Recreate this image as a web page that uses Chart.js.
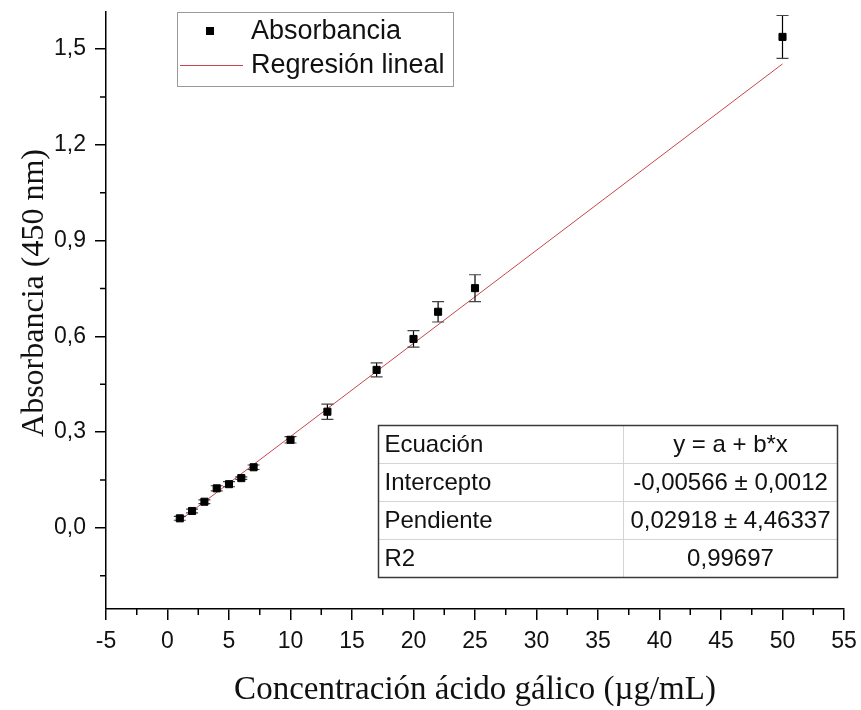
<!DOCTYPE html>
<html>
<head>
<meta charset="utf-8">
<script src="https://cdn.jsdelivr.net/npm/chart.js@4.4.1/dist/chart.umd.min.js"></script>
<style>
  html, body { margin: 0; padding: 0; background: #ffffff; }
  #wrap { width: 861px; height: 710px; }
</style>
</head>
<body>
<div id="wrap"><canvas id="curva" width="861" height="710"></canvas></div>
<script>
// Curva de calibración: concentración de ácido gálico vs absorbancia a 450 nm
const concentracion = [1, 2, 3, 4, 5, 6, 7, 10, 13, 17, 20, 22, 25, 50];
const absorbancia   = [0.030, 0.053, 0.082, 0.124, 0.137, 0.156, 0.190, 0.276, 0.364, 0.495, 0.592, 0.677, 0.751, 1.538];
const desviacion    = [0.006, 0.006, 0.006, 0.008, 0.008, 0.004, 0.007, 0.010, 0.024, 0.022, 0.026, 0.032, 0.042, 0.067];

// Parámetros del ajuste lineal (y = a + b*x)
const intercepto = -0.00566;
const pendiente  = 0.02918;

const xTicks = [-5, 0, 5, 10, 15, 20, 25, 30, 35, 40, 45, 50, 55];
const xTickLabels = ['-5', '0', '5', '10', '15', '20', '25', '30', '35', '40', '45', '50', '55'];
const yTicks = [0, 0.3, 0.6, 0.9, 1.2, 1.5];
const yTickLabels = ['0,0', '0,3', '0,6', '0,9', '1,2', '1,5'];

const tablaEtiquetas = ['Ecuación', 'Intercepto', 'Pendiente', 'R2'];
const tablaValores   = ['y = a + b*x', '-0,00566 ± 0,0012', '0,02918 ± 4,46337', '0,99697'];

const SANS = "'Liberation Sans', Arial, sans-serif";
const SERIF = "'Liberation Serif', 'Times New Roman', serif";
const COLOR_AJUSTE = '#c8454d';

const puntos = concentracion.map((x, i) => ({ x: x, y: absorbancia[i] }));
const xMinDatos = Math.min(...concentracion);
const xMaxDatos = Math.max(...concentracion);
const recta = [
  { x: xMinDatos, y: intercepto + pendiente * xMinDatos },
  { x: xMaxDatos, y: intercepto + pendiente * xMaxDatos }
];

// Barras de error bajo los marcadores
const barrasError = {
  id: 'barrasError',
  beforeDatasetDraw(chart, args) {
    if (args.index !== 0) return;
    const { ctx, scales: { x, y } } = chart;
    ctx.save();
    concentracion.forEach((c, i) => {
      const px = x.getPixelForValue(c);
      const yTop = y.getPixelForValue(absorbancia[i] + desviacion[i]);
      const yBot = y.getPixelForValue(absorbancia[i] - desviacion[i]);
      ctx.strokeStyle = '#000';
      ctx.lineWidth = 1.2;
      ctx.beginPath();
      ctx.moveTo(px, yTop);
      ctx.lineTo(px, yBot);
      ctx.stroke();
      ctx.strokeStyle = '#444';
      ctx.beginPath();
      ctx.moveTo(px - 6, yTop); ctx.lineTo(px + 6, yTop);
      ctx.moveTo(px - 6, yBot); ctx.lineTo(px + 6, yBot);
      ctx.stroke();
    });
    ctx.restore();
  }
};

// Marcas menores, títulos de ejes, leyenda y tabla del ajuste
const decoracion = {
  id: 'decoracion',
  afterDraw(chart) {
    const { ctx, chartArea, scales: { x, y } } = chart;
    ctx.save();

    // marcas menores
    ctx.strokeStyle = '#000';
    ctx.lineWidth = 1.5;
    ctx.beginPath();
    for (let v = -2.5; v < 55; v += 5) {
      const px = x.getPixelForValue(v);
      ctx.moveTo(px, chartArea.bottom);
      ctx.lineTo(px, chartArea.bottom + 6);
    }
    for (let v = -0.15; v < y.max; v += 0.3) {
      const py = y.getPixelForValue(v);
      ctx.moveTo(chartArea.left, py);
      ctx.lineTo(chartArea.left - 6, py);
    }
    ctx.stroke();

    // títulos de ejes
    ctx.fillStyle = '#111';
    ctx.textAlign = 'center';
    ctx.textBaseline = 'middle';
    ctx.font = '33px ' + SERIF;
    ctx.fillText('Concentración ácido gálico (µg/mL)', (chartArea.left + chartArea.right) / 2, 690);
    ctx.font = '32px ' + SERIF;
    ctx.save();
    ctx.translate(35, 293);
    ctx.rotate(-Math.PI / 2);
    ctx.fillText('Absorbancia (450 nm)', 0, 0);
    ctx.restore();

    // leyenda
    const ds0 = chart.data.datasets[0];
    const ds1 = chart.data.datasets[1];
    ctx.strokeStyle = '#9a9a9a';
    ctx.lineWidth = 1;
    ctx.strokeRect(177.5, 12.5, 276, 74);
    ctx.fillStyle = ds0.backgroundColor;
    ctx.fillRect(206, 27, 8, 8);
    ctx.strokeStyle = ds1.borderColor;
    ctx.lineWidth = 1;
    ctx.beginPath();
    ctx.moveTo(180, 65.5);
    ctx.lineTo(243, 65.5);
    ctx.stroke();
    ctx.fillStyle = '#111';
    ctx.font = '27px ' + SANS;
    ctx.textAlign = 'left';
    ctx.textBaseline = 'middle';
    ctx.fillText(ds0.label, 251, 32);
    ctx.fillText(ds1.label, 251, 66);

    // tabla del ajuste
    const tx = 378.5, ty = 425.5, tw = 459, fila = 38, colDiv = 623.5;
    const th = fila * tablaEtiquetas.length;
    ctx.fillStyle = '#ffffff';
    ctx.fillRect(tx, ty, tw, th);
    ctx.strokeStyle = '#d4d4d4';
    ctx.lineWidth = 1;
    ctx.beginPath();
    for (let r = 1; r < tablaEtiquetas.length; r++) {
      ctx.moveTo(tx, ty + r * fila);
      ctx.lineTo(tx + tw, ty + r * fila);
    }
    ctx.moveTo(colDiv, ty);
    ctx.lineTo(colDiv, ty + th);
    ctx.stroke();
    ctx.strokeStyle = '#3a3a3a';
    ctx.lineWidth = 1.5;
    ctx.strokeRect(tx, ty, tw, th);

    ctx.fillStyle = '#111';
    ctx.font = '24px ' + SANS;
    ctx.textBaseline = 'middle';
    tablaEtiquetas.forEach((t, r) => {
      ctx.textAlign = 'left';
      ctx.fillText(t, tx + 6, ty + r * fila + fila / 2 + 1);
      ctx.textAlign = 'center';
      ctx.fillText(tablaValores[r], (colDiv + tx + tw) / 2, ty + r * fila + fila / 2 + 1);
    });

    ctx.restore();
  }
};

new Chart(document.getElementById('curva'), {
  type: 'scatter',
  data: {
    datasets: [
      {
        label: 'Absorbancia',
        data: puntos,
        pointStyle: 'rect',
        pointRadius: 5,
        pointBorderWidth: 1,
        backgroundColor: '#000000',
        borderColor: '#000000',
        order: 0
      },
      {
        type: 'line',
        label: 'Regresión lineal',
        data: recta,
        borderColor: COLOR_AJUSTE,
        borderWidth: 1,
        pointRadius: 0,
        fill: false,
        tension: 0,
        order: 1
      }
    ]
  },
  options: {
    responsive: false,
    animation: false,
    events: [],
    layout: { padding: { top: 12, right: 17, left: 0, bottom: 0 } },
    plugins: { legend: { display: false }, tooltip: { enabled: false } },
    scales: {
      x: {
        type: 'linear',
        min: -5,
        max: 55,
        afterBuildTicks: s => { s.ticks = xTicks.map(v => ({ value: v })); },
        afterFit: s => { s.height = 101; s.paddingLeft = 0; s.paddingRight = 0; },
        grid: { drawOnChartArea: false, drawTicks: true, tickLength: 11, color: '#000', lineWidth: 1.5 },
        border: { display: true, color: '#000', width: 1.5 },
        ticks: {
          autoSkip: false, maxRotation: 0, padding: 8, color: '#111',
          font: { family: SANS, size: 23 },
          callback: (v, i) => xTickLabels[i]
        }
      },
      y: {
        type: 'linear',
        min: -0.254,
        max: 1.616,
        afterBuildTicks: s => { s.ticks = yTicks.map(v => ({ value: v })); },
        afterFit: s => { s.width = 106; s.paddingTop = 0; s.paddingBottom = 0; },
        grid: { drawOnChartArea: false, drawTicks: true, tickLength: 11, color: '#000', lineWidth: 1.5 },
        border: { display: true, color: '#000', width: 1.5 },
        ticks: {
          autoSkip: false, padding: 9, color: '#111',
          font: { family: SANS, size: 23 },
          callback: (v, i) => yTickLabels[i]
        }
      }
    }
  },
  plugins: [barrasError, decoracion]
});
</script>
</body>
</html>
